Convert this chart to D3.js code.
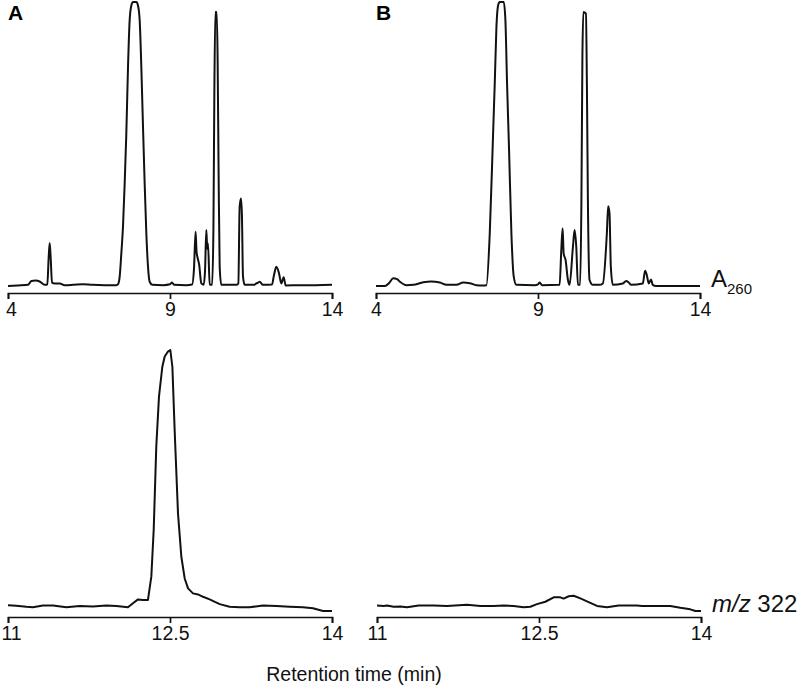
<!DOCTYPE html>
<html>
<head>
<meta charset="utf-8">
<script src="https://cdnjs.cloudflare.com/ajax/libs/d3/7.8.5/d3.min.js"></script>
<style>
    body { margin: 0; background: #fff; }
    svg { font-family: "Liberation Sans", Arial, Helvetica, sans-serif; }
    .traza { fill: none; stroke: #111; stroke-width: 2; stroke-linejoin: round; }
    .eje path, .eje line { stroke: #111; stroke-width: 1.7; }
    .eje text { font-size: 19.5px; fill: #111; }
</style>
</head>
<body>
<script>
//Ticks de los ejes
const ticksUV = [4, 9, 14];
const ticksMS = [11, 12.5, 14];

//Cromatograma A, absorbancia 260 nm (tiempo en min, % de escala)
const tiempoUvA = [4.0, 4.3, 4.617, 4.72, 4.85, 4.977, 5.132, 5.214, 5.255, 5.286, 5.317, 5.358, 5.44, 5.595, 5.75, 6.0, 6.315, 6.6, 7.0, 7.344,
    7.395, 7.447, 7.498, 7.549, 7.601, 7.652, 7.704, 7.755, 7.807, 7.858, 7.961, 8.012, 8.064, 8.115, 8.167, 8.218, 8.27, 8.321, 8.372, 8.455,
    8.8, 9.0, 9.062, 9.13, 9.5, 9.68, 9.74, 9.79, 9.82, 9.845, 9.9, 9.967, 10.039, 10.08, 10.121, 10.15, 10.173, 10.224, 10.3, 10.34,
    10.37, 10.4, 10.44, 10.47, 10.5, 10.533, 10.584, 11.05, 11.109, 11.15, 11.19, 11.22, 11.253, 11.305, 11.6, 11.665, 11.72, 11.767, 11.87, 12.15,
    12.2, 12.24, 12.282, 12.364, 12.436, 12.508, 12.57, 13.0, 13.5, 14.0];
const valorUvA = [0, 0.2, 0.4, 1.76, 1.9, 1.6, 0.4, 0.5, 10, 15.1, 10, 1.2, 0.9, 0.9, 0.3, 0.4, 0.6, 0.4, 0.3, 0.3,
    0.6, 3.3, 11.5, 20.9, 36.1, 53.7, 77.1, 93.6, 98.8, 100, 100, 98.8, 93.6, 77.1, 56, 36.1, 18.5, 6.8, 1.5, 0.4,
    0.3, 0.6, 1.2, 0.4, 0.3, 0.5, 6, 19.1, 12, 10.3, 7.5, 0.9, 0.4, 5, 19.7, 13, 15, 0.5, 0.4, 20,
    70, 96.5, 96.5, 80, 40, 6.8, 0.4, 0.4, 0.9, 28, 30.8, 25, 3.3, 0.4, 0.4, 0.9, 1.2, 1.5, 0.4, 0.5,
    3.3, 5.4, 6.8, 4.5, 0.9, 3.1, 0.2, 0.3, 0.3, 0.4];

//Cromatograma B, absorbancia 260 nm
const tiempoUvB = [4.0, 4.277, 4.4, 4.534, 4.65, 4.739, 4.945, 5.15, 5.458, 5.7, 5.971, 6.177, 6.485, 6.69, 6.895, 7.1, 7.306, 7.409, 7.511, 7.614,
    7.665, 7.717, 7.768, 7.819, 7.943, 7.994, 8.045, 8.107, 8.179, 8.251, 8.333, 8.9, 9.0, 9.051, 9.12, 9.667, 9.719, 9.76, 9.791, 9.852,
    9.924, 9.975, 10.078, 10.129, 10.181, 10.232, 10.3, 10.34, 10.37, 10.4, 10.48, 10.51, 10.54, 10.591, 10.694, 10.899, 11.002, 11.125, 11.166, 11.207,
    11.248, 11.31, 11.618, 11.721, 11.803, 11.875, 12.234, 12.306, 12.357, 12.419, 12.491, 12.542, 12.645, 14.0];
const valorUvB = [0, 0, 1, 2.7, 2.4, 1.5, 0.3, 0.4, 1.3, 1.6, 1.2, 0.4, 0.4, 1.2, 1.0, 0.3, 0.2, 0.3, 18.5, 53.7,
    71.3, 91.2, 98.8, 100, 100, 93.6, 71.3, 47.8, 18.5, 3.3, 0.4, 0.3, 0.6, 1.2, 0.3, 0.4, 12.7, 20.3, 11.5, 9.1,
    2.1, 0.4, 13.8, 19.7, 13.8, 0.4, 0.4, 30, 80, 96.5, 95.9, 70, 30, 2.1, 0.4, 0.4, 0.9, 18.5, 28.1, 25.6,
    6.8, 0.4, 0.9, 1.76, 1.2, 0.4, 0.9, 5.4, 3.9, 0.9, 2.3, 0.4, 0, 0];

//Ion extraído m/z 322, muestra A
const tiempoMsA = [11.0, 11.077, 11.17, 11.231, 11.324, 11.417, 11.54, 11.664, 11.787, 11.91, 12.003, 12.111, 12.157, 12.204, 12.25, 12.296, 12.327, 12.349, 12.373, 12.398,
    12.429, 12.451, 12.481, 12.503, 12.522, 12.543, 12.574, 12.605, 12.636, 12.667, 12.713, 12.759, 12.806, 12.867, 12.96, 13.052, 13.145, 13.238, 13.361, 13.485,
    13.608, 13.731, 13.824, 13.917, 14.0];
const valorMsA = [2.5, 2.3, 1.9, 1.7, 2.4, 2.4, 1.7, 2.2, 2.0, 2.4, 2.2, 1.7, 3.2, 4.7, 4.5, 4.5, 13.4, 31.2, 63.1, 82.2,
    93.6, 97.5, 99.4, 100, 93.6, 69.4, 37.6, 21.0, 12.7, 8.9, 7.0, 6.6, 5.7, 4.7, 2.9, 1.9, 1.7, 1.7, 2.4, 2.2,
    1.9, 1.7, 1.3, 0.25, 0.25];

//Ion extraído m/z 322, muestra B
const tiempoMsB = [11.0, 11.062, 11.093, 11.154, 11.216, 11.278, 11.386, 11.525, 11.648, 11.833, 11.957, 12.08, 12.173, 12.265, 12.358, 12.42, 12.481, 12.559, 12.636, 12.698,
    12.728, 12.775, 12.821, 12.883, 12.975, 13.037, 13.13, 13.238, 13.407, 13.454, 13.716, 13.809, 13.901, 13.948, 14.0];
const valorMsB = [2.4, 2.2, 2.4, 1.9, 2.0, 1.7, 2.4, 2.4, 2.2, 2.7, 2.2, 2.2, 2.4, 2.2, 1.7, 1.9, 2.9, 3.8, 5.5, 5.5,
    5.0, 5.9, 6.1, 5.1, 3.4, 2.2, 1.7, 2.4, 2.4, 2.2, 2.2, 1.5, 0.9, 0.25, 0.25];

const ancho = 800;
const alto = 688;

var svg = d3.select("body")
    .append("svg")
    .attr("width", ancho)
    .attr("height", alto);

//Dibuja un panel: traza y eje inferior
function getPanel(rangoX, dominioX, ticks, yBase, yTope, yEje, tiempos, valores, curva) {
    var x = d3.scaleLinear().domain(dominioX).range(rangoX);
    var y = d3.scaleLinear().domain([0, 100]).range([yBase, yTope]);

    var linea = d3.line()
        .x(function(d, i) { return x(tiempos[i]); })
        .y(function(d) { return y(d); })
        .curve(curva);

    svg.append("path")
        .datum(valores)
        .attr("class", "traza")
        .attr("d", linea);

    var eje = svg.append("g")
        .attr("class", "eje")
        .attr("transform", "translate(0," + yEje + ")")
        .call(d3.axisBottom(x).tickValues(ticks).tickSize(6).tickSizeOuter(6).tickPadding(3)
            .tickFormat(function(d) { return String(d); }));

    //Evita que la primera etiqueta quede cortada en el borde
    eje.selectAll(".tick text")
        .filter(function(d, i) { return i === 0; })
        .attr("dx", rangoX[0] < 20 ? 3 : 0);
}

//Paneles superiores, A260
getPanel([8, 332], [4, 14], ticksUV, 286, 2, 293, tiempoUvA, valorUvA, d3.curveMonotoneX);
getPanel([376, 700], [4, 14], ticksUV, 286, 2, 293, tiempoUvB, valorUvB, d3.curveMonotoneX);

//Paneles inferiores, m/z 322
getPanel([8, 332], [11, 14], ticksMS, 611.7, 350, 617, tiempoMsA, valorMsA, d3.curveLinear);
getPanel([377, 701], [11, 14], ticksMS, 611.7, 350, 617, tiempoMsB, valorMsB, d3.curveLinear);

//Etiquetas de los paneles
svg.append("text").attr("x", 8).attr("y", 20)
    .attr("font-size", 21).attr("font-weight", "bold").text("A");
svg.append("text").attr("x", 376).attr("y", 20)
    .attr("font-size", 21).attr("font-weight", "bold").text("B");

//Etiqueta A260
var a260 = svg.append("text").attr("x", 711).attr("y", 287).attr("font-size", 24).attr("fill", "#111");
a260.append("tspan").text("A");
a260.append("tspan").attr("font-size", 15).attr("dy", 7).text("260");

//Etiqueta m/z 322
var mz = svg.append("text").attr("x", 712).attr("y", 612).attr("font-size", 24).attr("fill", "#111");
mz.append("tspan").attr("font-style", "italic").text("m/z");
mz.append("tspan").text(" 322");

//Título del eje x
svg.append("text")
    .attr("x", 354).attr("y", 681)
    .attr("text-anchor", "middle")
    .attr("font-size", 19.5)
    .attr("fill", "#111")
    .text("Retention time (min)");
</script>
</body>
</html>
